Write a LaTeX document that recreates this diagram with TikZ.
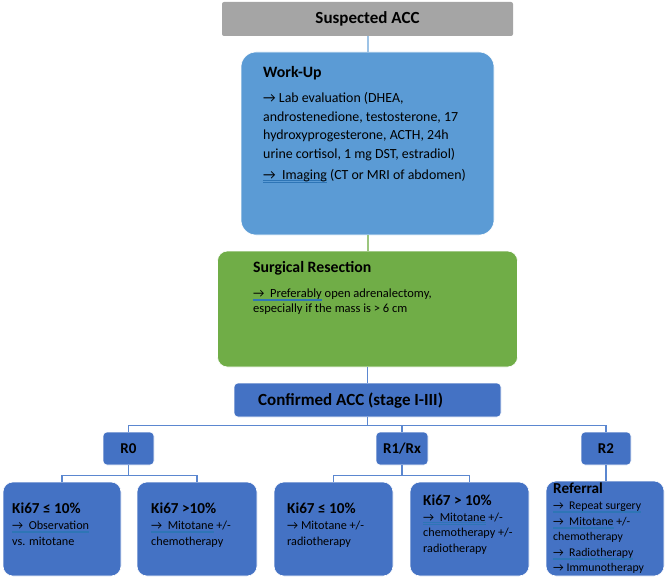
\documentclass[tikz,border=0pt]{standalone}
\usepackage{fontspec}
\setmainfont{Carlito}
\usepackage{xcolor}
\definecolor{customgray}{HTML}{A5A5A5}
\definecolor{customblue}{HTML}{5B9BD5}
\definecolor{customgreen}{HTML}{70AD47}
\definecolor{customnavy}{HTML}{4472C4}
\definecolor{customline}{HTML}{5B87D0}
\definecolor{customlight}{HTML}{9DC3E6}
\definecolor{customcheck}{HTML}{2E75B6}

% blue proofing underline
\newcommand{\checkline}[1]{\leavevmode\setbox0=\hbox{#1}\rlap{\textcolor{customcheck}{\rule[-1.8pt]{\wd0}{0.5pt}}}\rlap{\textcolor{customcheck}{\rule[-3pt]{\wd0}{0.5pt}}}\box0\relax}

\tikzset{
  box/.style = {draw = white, line width = 0.6pt, inner sep = 0pt},
  connector/.style = {draw = customline, line width = 1.3pt},
  heading/.style = {font = \bfseries\fontsize{15.8}{18}\selectfont, inner sep = 0pt},
  bodytext/.style = {font = \fontsize{13.9}{18.8}\selectfont, align = left, inner sep = 0pt},
  smalltext/.style = {font = \fontsize{12.2}{15.7}\selectfont, align = left, inner sep = 0pt}
}

\begin{document}
\begin{tikzpicture}[x = 1pt, y = -1pt]

        \useasboundingbox (0, 0) rectangle (668, 580);

        % Upper boxes
        \node [box, draw = none, fill = customgray, rounded corners = 2pt, minimum width = 291pt, minimum height = 34pt, font = \bfseries\fontsize{17}{20}\selectfont] (suspected) at (367.5, 19) {Suspected ACC};
        \node [box, fill = customblue, rounded corners = 15pt, minimum width = 253pt, minimum height = 183pt] (workup) at (367.5, 143.5) {};
        \node [box, fill = customgreen, rounded corners = 10pt, minimum width = 300pt, minimum height = 116pt] (surgical) at (367.5, 309) {};
        \node [box, fill = customnavy, rounded corners = 4pt, minimum width = 267pt, minimum height = 34pt] (confirmed) at (367.5, 400) {};

        \node [heading, anchor = base west] (workuptitle) at (263, 78) {Work-Up};
        \node [bodytext, anchor = north west] (workuptext) at (263, 92) {→ Lab evaluation (DHEA,\\androstenedione, testosterone, 17\\hydroxyprogesterone, ACTH, 24h\\urine cortisol, 1 mg DST, estradiol)\\[1.5pt]\checkline{→\ \ Imaging} (CT or MRI of abdomen)};

        \node [heading, anchor = base west] (surgicaltitle) at (253, 272) {Surgical Resection};
        \node [bodytext, font = \fontsize{12.5}{15}\selectfont, anchor = north west] (surgicaltext) at (253, 288.5) {\checkline{→\ \ Preferably} open adrenalectomy,\\especially if the mass is > 6 cm};

        \node [heading, font = \bfseries\fontsize{17}{20}\selectfont, anchor = base west] (confirmedtitle) at (258, 405.5) {Confirmed ACC (stage I-III)};

        % Resection status
        \node [box, fill = customnavy, rounded corners = 4pt, minimum width = 51pt, minimum height = 33pt, font = \bfseries\fontsize{15}{18}\selectfont] (rzero) at (128.5, 448.5) {R0};
        \node [box, fill = customnavy, rounded corners = 4pt, minimum width = 52pt, minimum height = 33pt, font = \bfseries\fontsize{15}{18}\selectfont] (rone) at (402, 448.5) {R1/Rx};
        \node [box, fill = customnavy, rounded corners = 4pt, minimum width = 50pt, minimum height = 33pt, font = \bfseries\fontsize{15}{18}\selectfont] (rtwo) at (606, 448.5) {R2};

        % Therapy boxes
        \node [box, fill = customnavy, rounded corners = 10pt, minimum width = 118pt, minimum height = 94pt] (kione) at (62, 529) {};
        \node [box, fill = customnavy, rounded corners = 10pt, minimum width = 120pt, minimum height = 94pt] (kitwo) at (197, 529) {};
        \node [box, fill = customnavy, rounded corners = 10pt, minimum width = 119pt, minimum height = 94pt] (kithree) at (333.5, 529) {};
        \node [box, fill = customnavy, rounded corners = 10pt, minimum width = 119pt, minimum height = 94pt] (kifour) at (469.5, 529) {};
        \node [box, fill = customnavy, rounded corners = 10pt, minimum width = 118pt, minimum height = 95pt] (referral) at (605, 528.5) {};

        \node [heading, font = \bfseries\fontsize{15.2}{18}\selectfont, anchor = base west] (kionetitle) at (12, 513) {Ki67 ≤ 10\%};
        \node [smalltext, anchor = north west] (kionetext) at (12, 521) {\checkline{→\ \ Observation}\\vs. mitotane};
        \node [heading, font = \bfseries\fontsize{15.2}{18}\selectfont, anchor = base west] (kitwotitle) at (151, 513) {Ki67 >10\%};
        \node [smalltext, anchor = north west] (kitwotext) at (151, 521) {\checkline{→\ \ Mitotane} +/-\\chemotherapy};
        \node [heading, font = \bfseries\fontsize{15.2}{18}\selectfont, anchor = base west] (kithreetitle) at (287, 513) {Ki67 ≤ 10\%};
        \node [smalltext, anchor = north west] (kithreetext) at (287, 521) {→ Mitotane +/-\\radiotherapy};
        \node [heading, font = \bfseries\fontsize{15.2}{18}\selectfont, anchor = base west] (kifourtitle) at (423, 505) {Ki67 > 10\%};
        \node [smalltext, anchor = north west] (kifourtext) at (423, 512.5) {\checkline{→\ \ Mitotane} +/-\\chemotherapy +/-\\radiotherapy};
        \node [heading, font = \bfseries\fontsize{15.2}{18}\selectfont, anchor = base west] (referraltitle) at (553, 493) {Referral};
        \node [smalltext, font = \fontsize{11.8}{15.5}\selectfont, anchor = north west] (referraltext) at (553, 502) {\checkline{→\ \ Repeat surgery}\\\checkline{→\ \ Mitotane} +/-\\chemotherapy\\\checkline{→\ \ Radiotherapy}\\→ Immunotherapy};

        % Connectors
        \draw [connector, draw = customlight, line width = 2pt] (suspected) -- (workup);
        \draw [connector, draw = customgreen!70!white, line width = 2pt] (workup) -- (surgical);
        \draw [connector] (surgical) -- (confirmed);
        \draw [connector] (confirmed.south) -- ++(0, 8) -| (rzero.north);
        \draw [connector] (confirmed.south) -- ++(0, 8) -| (rone.north);
        \draw [connector] (confirmed.south) -- ++(0, 8) -| (rtwo.north);
        \draw [connector] (rzero.south) -- ++(0, 10) -| (kione.north);
        \draw [connector] (rzero.south) -- ++(0, 10) -| (kitwo.north);
        \draw [connector] (rone.south) -- ++(0, 10) -| (kithree.north);
        \draw [connector] (rone.south) -- ++(0, 10) -| (kifour.north);
        \draw [connector] (rtwo.south) -- (rtwo.south |- referral.north);

\end{tikzpicture}
\end{document}
